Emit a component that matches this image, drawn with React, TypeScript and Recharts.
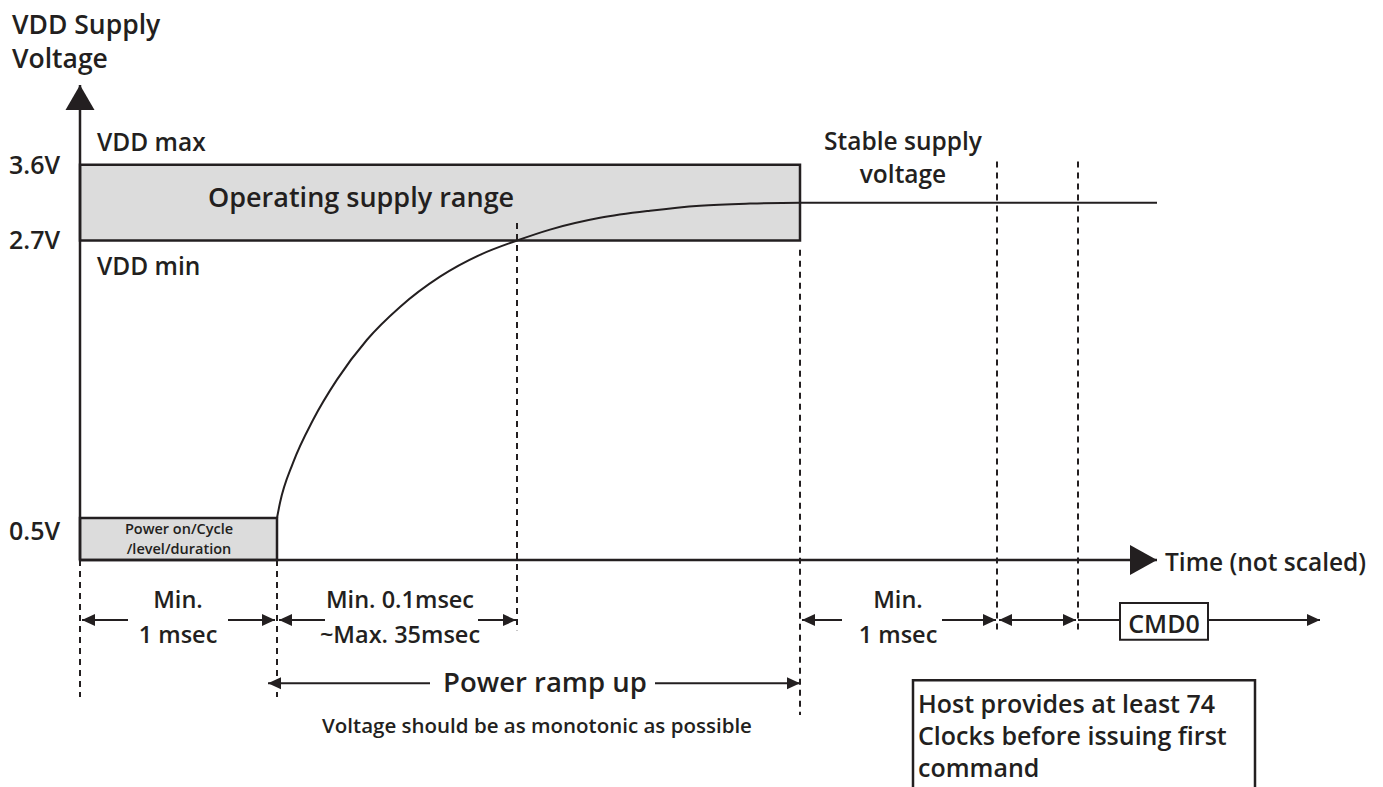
import * as React from 'react'
import {
  ComposedChart,
  Line,
  XAxis,
  YAxis,
  ReferenceArea,
  ReferenceLine,
  ReferenceDot } from 'recharts'

const INK = '#231f20'
const GREY = '#dcdcdc'
const FONT = '"Open Sans", sans-serif'

// time marks, not scaled (arbitrary units)
const T_START = 0
const T_POWER_ON = 19.7
const T_MIN_RAMP = 43.7
const T_RAMP_END = 72
const T_CLK_1 = 91.7
const T_CLK_2 = 99.8
const T_END = 107.7

// voltage levels as drawn, not scaled
const levelLabels = ['0.5V', '2.7V', '3.6V']
const levelValues = [1.0, 7.6, 9.4]
const L_TOP = 11.3

// supply voltage ramp
const rampTime = [19.7, 20.0, 21.3, 23.3, 25.7, 28.7, 32.0, 36.0, 40.0, 43.7, 47.0, 52.0, 57.0, 62.0, 67.0, 72.0, 107.7]
const rampLevel = [1.0, 1.36, 2.31, 3.33, 4.29, 5.24, 6.02, 6.74, 7.26, 7.6, 7.86, 8.14, 8.31, 8.43, 8.48, 8.5, 8.5]

const data = rampTime.map((t, i) => ({ t, v: rampLevel[i] }))

const head = (x: number, y: number, dir: number, len = 13, half = 6) => (
  <polygon points={`${x},${y} ${x - dir * len},${y - half} ${x - dir * len},${y + half}`} fill={INK} />
)

const arrow = (heads: 'end' | 'both' | 'none') => (p: any) => {
  const { x1, y1, x2, y2 } = p
  const dir = x2 >= x1 ? 1 : -1
  return (
    <g>
      <line x1={x1} y1={y1} x2={x2} y2={y2} stroke={INK} strokeWidth={2} />
      {heads !== 'none' && head(x2, y2, dir)}
      {heads === 'both' && head(x1, y1, -dir)}
    </g>
  )
}

const txt = (lines: string[], size: number, anchor = 'middle', gap = size * 1.4) => (p: any) => (
  <text x={p.cx} y={p.cy} fontSize={size} fontWeight={600} fontFamily={FONT} fill={INK} textAnchor={anchor}>
    {lines.map((s, i) => (
      <tspan key={i} x={p.cx} dy={i === 0 ? 0 : gap}>{s}</tspan>
    ))}
  </text>
)

const LevelTick = (p: any) => {
  const v = p.payload.value
  const drop = v === levelValues[0] ? 13 : 0
  return (
    <text x={p.x} y={p.y + drop} dy="0.35em" textAnchor="end" fontSize={25} fontWeight={600} fontFamily={FONT} fill={INK}>
      {levelLabels[levelValues.indexOf(v)]}
    </text>
  )
}

const yArrowHead = (p: any) => (
  <polygon points={`${p.cx},${p.cy} ${p.cx - 14.5},${p.cy + 25} ${p.cx + 14.5},${p.cy + 25}`} fill={INK} />
)
const xArrowHead = (p: any) => (
  <polygon points={`${p.cx},${p.cy} ${p.cx - 27},${p.cy - 15} ${p.cx - 27},${p.cy + 15}`} fill={INK} />
)

const ARROW_Y = -1.43
const RAMP_Y = -2.93

const App = () => {
  return (
    <div style={{ position: 'absolute', left: 0, top: 0, background: '#fff' }}>
      <ComposedChart width={1383} height={787} data={data} margin={{ top: 85, right: 226, bottom: 226, left: 0 }}>
        <XAxis dataKey="t" type="number" domain={[T_START, T_END]} tick={false} tickLine={false} height={1}
          axisLine={{ stroke: INK, strokeWidth: 2.5 }} />
        <YAxis type="number" domain={[0, L_TOP]} ticks={levelValues} interval={0} width={80} tickSize={0} tickMargin={20}
          tickLine={false} tick={<LevelTick />} axisLine={{ stroke: INK, strokeWidth: 2.5 }} />

        <ReferenceArea x1={T_START} x2={T_RAMP_END} y1={levelValues[1]} y2={levelValues[2]}
          fill={GREY} fillOpacity={1} stroke={INK} strokeWidth={2.5} ifOverflow="visible" />
        <ReferenceArea x1={T_START} x2={T_POWER_ON} y1={0} y2={levelValues[0]}
          fill={GREY} fillOpacity={1} stroke={INK} strokeWidth={2.5} ifOverflow="visible" />

        {/* dashed time markers */}
        <ReferenceLine segment={[{ x: T_START, y: 0 }, { x: T_START, y: -3.26 }]} stroke={INK} strokeWidth={2} strokeDasharray="6 5" ifOverflow="visible" />
        <ReferenceLine segment={[{ x: T_POWER_ON, y: 0 }, { x: T_POWER_ON, y: -3.26 }]} stroke={INK} strokeWidth={2} strokeDasharray="6 5" ifOverflow="visible" />
        <ReferenceLine segment={[{ x: T_MIN_RAMP, y: 8.02 }, { x: T_MIN_RAMP, y: -1.67 }]} stroke={INK} strokeWidth={2} strokeDasharray="6 5" ifOverflow="visible" />
        <ReferenceLine segment={[{ x: T_RAMP_END, y: 7.38 }, { x: T_RAMP_END, y: -3.69 }]} stroke={INK} strokeWidth={2} strokeDasharray="6 5" ifOverflow="visible" />
        <ReferenceLine segment={[{ x: T_CLK_1, y: 9.48 }, { x: T_CLK_1, y: -1.67 }]} stroke={INK} strokeWidth={2} strokeDasharray="6 5" ifOverflow="visible" />
        <ReferenceLine segment={[{ x: T_CLK_2, y: 9.48 }, { x: T_CLK_2, y: -1.67 }]} stroke={INK} strokeWidth={2} strokeDasharray="6 5" ifOverflow="visible" />

        <Line dataKey="v" type="monotone" stroke={INK} strokeWidth={2} dot={false} activeDot={false} isAnimationActive={false} />

        {/* axis arrow heads */}
        <ReferenceDot x={T_START} y={L_TOP} r={0} ifOverflow="visible" shape={yArrowHead} />
        <ReferenceDot x={T_END} y={0} r={0} ifOverflow="visible" shape={xArrowHead} />

        {/* interval arrows */}
        <ReferenceLine segment={[{ x: 4.8, y: ARROW_Y }, { x: 0.2, y: ARROW_Y }]} ifOverflow="visible" shape={arrow('end')} />
        <ReferenceLine segment={[{ x: 14.8, y: ARROW_Y }, { x: 19.5, y: ARROW_Y }]} ifOverflow="visible" shape={arrow('end')} />
        <ReferenceLine segment={[{ x: 24.5, y: ARROW_Y }, { x: 19.9, y: ARROW_Y }]} ifOverflow="visible" shape={arrow('end')} />
        <ReferenceLine segment={[{ x: 39.8, y: ARROW_Y }, { x: 43.6, y: ARROW_Y }]} ifOverflow="visible" shape={arrow('end')} />
        <ReferenceLine segment={[{ x: 35, y: RAMP_Y }, { x: 18.8, y: RAMP_Y }]} ifOverflow="visible" shape={arrow('end')} />
        <ReferenceLine segment={[{ x: 57.5, y: RAMP_Y }, { x: 72, y: RAMP_Y }]} ifOverflow="visible" shape={arrow('end')} />
        <ReferenceLine segment={[{ x: 76.2, y: ARROW_Y }, { x: 72.2, y: ARROW_Y }]} ifOverflow="visible" shape={arrow('end')} />
        <ReferenceLine segment={[{ x: 86.2, y: ARROW_Y }, { x: 91.6, y: ARROW_Y }]} ifOverflow="visible" shape={arrow('end')} />
        <ReferenceLine segment={[{ x: 91.9, y: ARROW_Y }, { x: 99.6, y: ARROW_Y }]} ifOverflow="visible" shape={arrow('both')} />
        <ReferenceLine segment={[{ x: 99.8, y: ARROW_Y }, { x: 104, y: ARROW_Y }]} ifOverflow="visible" shape={arrow('none')} />
        <ReferenceLine segment={[{ x: 112.8, y: ARROW_Y }, { x: 124, y: ARROW_Y }]} ifOverflow="visible" shape={arrow('end')} />

        {/* boxes below the axis */}
        <ReferenceArea x1={104} x2={112.8} y1={-1.02} y2={-1.9} fill="#fff" fillOpacity={1} stroke={INK} strokeWidth={2} ifOverflow="visible" />
        <ReferenceArea x1={83.3} x2={117.5} y1={-2.86} y2={-5.8} fill="#fff" fillOpacity={1} stroke={INK} strokeWidth={2.5} ifOverflow="visible" />

        {/* texts */}
        <ReferenceDot x={-6.8} y={12.52} r={0} ifOverflow="visible" shape={txt(['VDD Supply', 'Voltage'], 26.5, 'start', 34)} />
        <ReferenceDot x={1.7} y={9.74} r={0} ifOverflow="visible" shape={txt(['VDD max'], 24.5, 'start')} />
        <ReferenceDot x={1.7} y={6.79} r={0} ifOverflow="visible" shape={txt(['VDD min'], 24.5, 'start')} />
        <ReferenceDot x={12.8} y={8.4} r={0} ifOverflow="visible" shape={txt(['Operating supply range'], 27, 'start')} />
        <ReferenceDot x={9.9} y={0.62} r={0} ifOverflow="visible" shape={txt(['Power on/Cycle', '/level/duration'], 14.5, 'middle', 20)} />
        <ReferenceDot x={82.3} y={9.76} r={0} ifOverflow="visible" shape={txt(['Stable supply', 'voltage'], 24.5, 'middle', 33)} />
        <ReferenceDot x={108.5} y={-0.27} r={0} ifOverflow="visible" shape={txt(['Time (not scaled)'], 24.5, 'start')} />
        <ReferenceDot x={9.8} y={-1.14} r={0} ifOverflow="visible" shape={txt(['Min.', '1 msec'], 23.5, 'middle', 35)} />
        <ReferenceDot x={32} y={-1.14} r={0} ifOverflow="visible" shape={txt(['Min. 0.1msec', '~Max. 35msec'], 23.5, 'middle', 35)} />
        <ReferenceDot x={81.8} y={-1.14} r={0} ifOverflow="visible" shape={txt(['Min.', '1 msec'], 23.5, 'middle', 35)} />
        <ReferenceDot x={108.4} y={-1.74} r={0} ifOverflow="visible" shape={txt(['CMD0'], 25)} />
        <ReferenceDot x={46.5} y={-3.14} r={0} ifOverflow="visible" shape={txt(['Power ramp up'], 27.5)} />
        <ReferenceDot x={45.7} y={-4.12} r={0} ifOverflow="visible" shape={txt(['Voltage should be as monotonic as possible'], 20.5)} />
        <ReferenceDot x={83.8} y={-3.64} r={0} ifOverflow="visible"
          shape={txt(['Host provides at least 74', 'Clocks before issuing first', 'command'], 25, 'start', 32)} />
      </ComposedChart>
    </div>
  )
}

export default App
